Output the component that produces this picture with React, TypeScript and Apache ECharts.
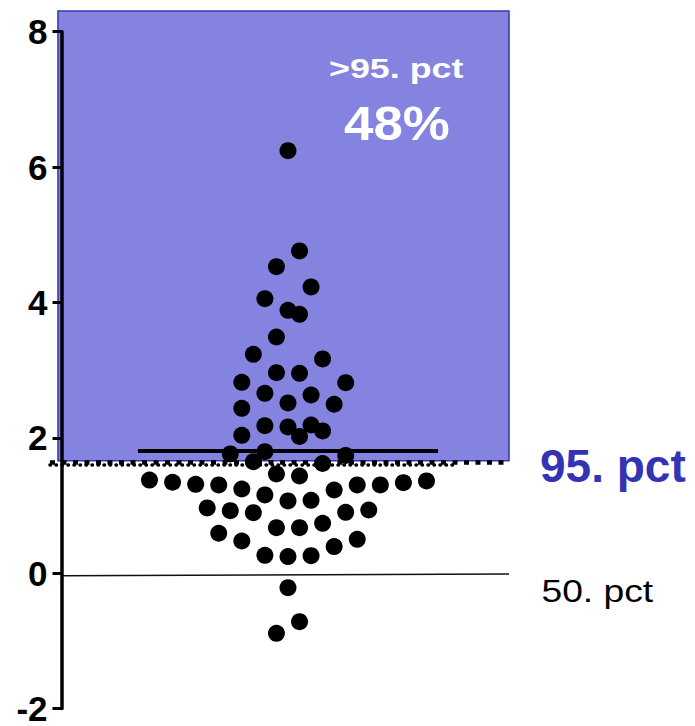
import React, { useEffect, useRef } from "react";
import * as echarts from "echarts";

// ---- data ----
const yTicks = [-2, 0, 2, 4, 6, 8];

// horizontal slot of each dot in the beeswarm (half-spacing units, 0 = centre)
const dotSlots = [
  0, 1, -1, 2, -2, 0, 1, -1, -3, 3,
  -1, 1, -4, 5, -2, 2, 0, 4, -4, -2,
  0, 2, 3, 1, -4, -5, -2, 5, -3, 3,
  -1, 1, -12, -10, -8, -6, -4, -2, 0, 2,
  4, 6, 8, 10, 12, -7, -5, -3, 5, 7,
  -1, 1, 3, -6, -4, 4, 6, -2, 0, 2,
  0, 1, -1,
];
const dotValues = [
  6.25, 4.775, 4.544, 4.246, 4.074, 3.903, 3.844, 3.51, 3.256, 3.187,
  2.985, 2.976, 2.844, 2.838, 2.682, 2.657, 2.54, 2.521, 2.462, 2.206,
  2.187, 2.216, 2.128, 2.047, 2.065, 1.79, 1.824, 1.768, 1.676, 1.65,
  1.496, 1.466, 1.407, 1.374, 1.344, 1.334, 1.275, 1.187, 1.099, 1.109,
  1.26, 1.334, 1.334, 1.368, 1.393, 0.996, 0.956, 0.926, 0.932, 0.966,
  0.706, 0.706, 0.771, 0.624, 0.51, 0.429, 0.535, 0.3, 0.282, 0.294,
  -0.176, -0.676, -0.847,
];

const pct95Value = 1.665;
const pct95DotsValue = 1.635;
const shadeBottom = 1.69;
const meanValue = 1.834;
const meanHalfWidth = 13;
const medianValue = 0;
const medianRightValue = 0.025;

const labelAbove = ">95. pct";
const labelShare = "48%";
const label95 = "95. pct";
const label50 = "50. pct";

// ---- layout ----
const W = 695;
const H = 726;
const FONT = "'Liberation Sans', Arial, Helvetica, sans-serif";
const xMin = -20.62;
const xMax = 19.15;
const yMin = -2;
const yMax = 8;
const yMaxPlot = 8.304;
const shadeLeft = -19.93;
const axisSlot = -19.58;
const roundDotsEnd = 14.3;

export default function App() {
  const ref = useRef<HTMLDivElement>(null);

  useEffect(() => {
    if (!ref.current) return;
    const chart = echarts.init(ref.current, undefined, { renderer: "svg" });

    const dots = dotSlots.map((s, i) => [s, dotValues[i]]);

    chart.setOption({
      animation: false,
      backgroundColor: "#fff",
      grid: [
        { left: 61.5, right: 186, top: 31.7, bottom: 14.3 },
        { left: 50, right: 186, top: 11, bottom: 14.3 },
      ],
      xAxis: [
        { gridIndex: 0, type: "value", show: false, min: 0, max: 1 },
        { gridIndex: 1, type: "value", show: false, min: xMin, max: xMax },
      ],
      yAxis: [
        {
          gridIndex: 0,
          type: "value",
          min: yMin,
          max: yMax,
          interval: 2,
          z: 10,
          axisLine: { show: true, lineStyle: { color: "#000", width: 3.5 } },
          axisTick: { show: true, length: 9, lineStyle: { color: "#000", width: 3 } },
          axisLabel: {
            color: "#000",
            fontSize: 35,
            lineHeight: 26,
            fontWeight: "bold",
            fontFamily: FONT,
            margin: 14,
            formatter: (v: number) => (yTicks.includes(v) ? String(v) : ""),
          },
          splitLine: { show: false },
        },
        { gridIndex: 1, type: "value", show: false, min: yMin, max: yMaxPlot },
      ],
      series: [
        {
          type: "scatter",
          xAxisIndex: 0,
          yAxisIndex: 0,
          data: [],
          silent: true,
        },
        {
          type: "scatter",
          xAxisIndex: 1,
          yAxisIndex: 1,
          clip: false,
          z: 3,
          symbol: "circle",
          symbolSize: 17,
          itemStyle: { color: "#000", opacity: 1 },
          silent: true,
          data: dots,
          markArea: {
            silent: true,
            z: 1,
            itemStyle: { color: "#8484E0", borderColor: "#3535B0", borderWidth: 1.5 },
            label: { show: false },
            data: [[{ coord: [shadeLeft, yMaxPlot] }, { coord: [xMax, shadeBottom] }]],
          },
          markLine: {
            silent: true,
            z: 2,
            symbol: ["none", "none"],
            label: { show: false },
            emphasis: { disabled: true },
            data: [
              [
                { coord: [axisSlot, medianValue], lineStyle: { color: "#111", width: 1.5, type: "solid" } },
                { coord: [xMax, medianRightValue] },
              ],
              [
                { coord: [xMin, pct95DotsValue], lineStyle: { color: "#000", width: 3.5, type: [0.5, 5.5], cap: "round" } },
                { coord: [roundDotsEnd, pct95DotsValue] },
              ],
              [
                { coord: [xMin, pct95Value], lineStyle: { color: "#000", width: 4.5, type: [5, 6.5], cap: "butt" } },
                { coord: [xMax, pct95Value] },
              ],
              [
                { coord: [-meanHalfWidth, meanValue], lineStyle: { color: "#000", width: 4, type: "solid" } },
                { coord: [meanHalfWidth, meanValue] },
              ],
            ],
          },
        },
      ],
      graphic: [
        {
          type: "text",
          x: 329,
          y: 68.5,
          scaleX: 1.28,
          z: 100,
          silent: true,
          style: {
            text: labelAbove,
            fill: "#fff",
            fontSize: 28,
            fontWeight: "bold",
            fontFamily: FONT,
            textAlign: "left",
            textVerticalAlign: "middle",
          },
        },
        {
          type: "text",
          x: 344,
          y: 123,
          scaleX: 1.08,
          z: 100,
          silent: true,
          style: {
            text: labelShare,
            fill: "#fff",
            fontSize: 49,
            fontWeight: "bold",
            fontFamily: FONT,
            textAlign: "left",
            textVerticalAlign: "middle",
          },
        },
        {
          type: "text",
          x: 540,
          y: 465.6,
          z: 100,
          silent: true,
          style: {
            text: label95,
            fill: "#3333B3",
            fontSize: 46,
            fontWeight: "bold",
            fontFamily: FONT,
            textAlign: "left",
            textVerticalAlign: "middle",
          },
        },
        {
          type: "text",
          x: 541.5,
          y: 591,
          scaleX: 1.2,
          z: 100,
          silent: true,
          style: {
            text: label50,
            fill: "#000",
            fontSize: 31,
            fontWeight: "normal",
            fontFamily: FONT,
            textAlign: "left",
            textVerticalAlign: "middle",
          },
        },
      ],
    });

    return () => chart.dispose();
  }, []);

  return (
    <div
      ref={ref}
      style={{ position: "absolute", left: 0, top: 0, width: W, height: H }}
    />
  );
}
